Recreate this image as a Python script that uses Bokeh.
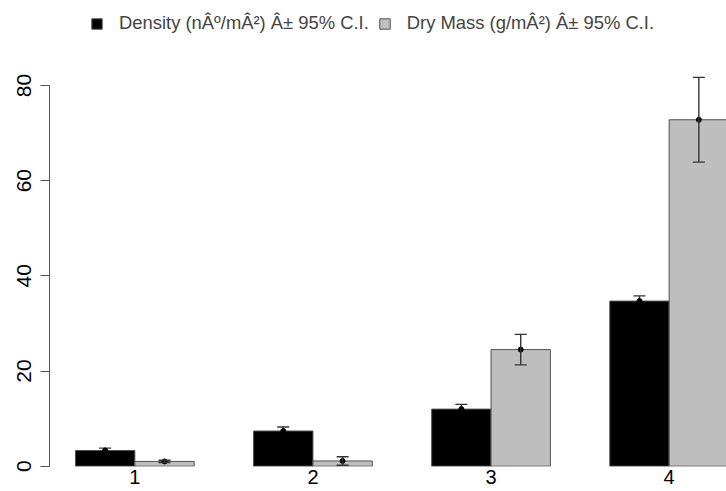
import numpy as np
from bokeh.plotting import figure
from bokeh.models import (Range1d, LinearAxis, FixedTicker, ColumnDataSource, Whisker,
                          TeeHead, Legend, LegendItem)
from bokeh.embed import file_html
from bokeh.resources import INLINE

# ---- data ----
categories = ["1", "2", "3", "4"]
density = [3.3, 7.4, 12.0, 34.7]
density_ci = [0.5, 0.85, 1.0, 1.1]
dry_mass = [1.0, 1.1, 24.5, 72.8]
dry_mass_ci = [0.25, 0.9, 3.2, 8.9]
y_ticks = [0, 20, 40, 60, 80]
series_names = ["Density (nÂº/mÂ²) Â± 95% C.I.", "Dry Mass (g/mÂ²) Â± 95% C.I."]

# R barplot(beside=TRUE) layout: bar width 1, gap 1 between groups
idx = np.arange(len(categories))
centers = 2.0 + 3.0 * idx
x_den = centers - 0.5
x_dry = centers + 0.5

FONT = "Liberation Sans"

p = figure(width=726, height=491, output_backend="svg", toolbar_location=None,
           x_range=Range1d(0.5626, 11.966), y_range=Range1d(-0.063, 97.86),
           min_border_left=49, min_border_right=0, min_border_top=0, min_border_bottom=25,
           x_axis_type=None, y_axis_type=None)
p.outline_line_color = None
p.xgrid.visible = False
p.ygrid.visible = False
p.background_fill_color = "white"
p.border_fill_color = "white"

src_den = ColumnDataSource(dict(x=x_den, top=density,
                                upper=np.array(density) + np.array(density_ci),
                                lower=np.array(density) - np.array(density_ci)))
src_dry = ColumnDataSource(dict(x=x_dry, top=dry_mass,
                                upper=np.array(dry_mass) + np.array(dry_mass_ci),
                                lower=np.array(dry_mass) - np.array(dry_mass_ci)))

r_den = p.vbar(x="x", top="top", bottom=0, width=1.0, source=src_den,
               fill_color="black", line_color="#505050", line_width=1)
r_dry = p.vbar(x="x", top="top", bottom=0, width=1.0, source=src_dry,
               fill_color="#bebebe", line_color="#505050", line_width=1)

# density whiskers sit under the (black) bars, dry-mass whiskers over the grey bars
for src, lvl in ((src_den, "underlay"), (src_dry, "annotation")):
    w = Whisker(base="x", upper="upper", lower="lower", source=src, level=lvl,
                line_color="#333333", line_width=1.4,
                upper_head=TeeHead(size=12, line_color="#333333", line_width=1.4),
                lower_head=TeeHead(size=12, line_color="#333333", line_width=1.4))
    p.add_layout(w)
    p.scatter(x="x", y="top", source=src, size=5, color="black")

# y axis (R style, spans 0..80 only)
yax = LinearAxis(ticker=FixedTicker(ticks=y_ticks), bounds=(0, 80))
yax.axis_line_color = "#555555"
yax.major_tick_line_color = "#555555"
yax.major_tick_out = 9
yax.major_tick_in = 0
yax.minor_tick_line_color = None
yax.major_label_orientation = "parallel"
yax.major_label_standoff = 9
yax.major_label_text_font = FONT
yax.major_label_text_font_size = "21px"
yax.major_label_text_color = "black"
p.add_layout(yax, "left")

# x axis: category labels only
xax = LinearAxis(ticker=FixedTicker(ticks=list(centers)),
                 major_label_overrides={float(c): lab for c, lab in zip(centers, categories)})
xax.axis_line_color = None
xax.major_tick_line_color = None
xax.minor_tick_line_color = None
xax.major_tick_out = 0
xax.major_tick_in = 0
xax.major_label_standoff = 3
xax.major_label_text_font = FONT
xax.major_label_text_font_size = "20px"
xax.major_label_text_color = "black"
p.add_layout(xax, "below")

legend = Legend(items=[LegendItem(label=series_names[0], renderers=[r_den]),
                       LegendItem(label=series_names[1], renderers=[r_dry])],
                orientation="horizontal", location=(41, 432),
                padding=0, margin=0, spacing=9,
                glyph_width=13, glyph_height=13, label_standoff=16,
                label_text_font=FONT, label_text_font_size="18.4px",
                label_height=13, background_fill_alpha=0, border_line_color=None)
p.add_layout(legend)

open("out.html", "w").write(file_html(p, INLINE))
